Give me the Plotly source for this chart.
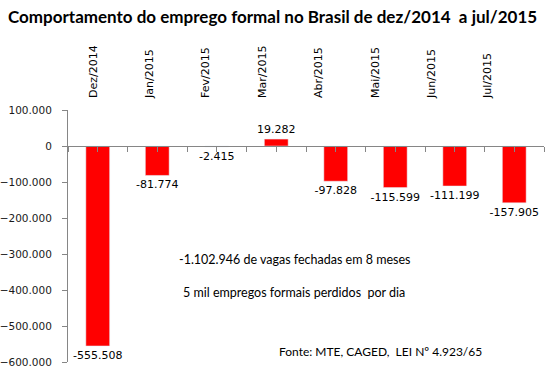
import plotly.graph_objects as go

categories = ["Dez/2014", "Jan/2015", "Fev/2015", "Mar/2015", "Abr/2015", "Mai/2015", "Jun/2015", "Jul/2015"]
values = [-555508, -81774, -2415, 19282, -97828, -115599, -111199, -157905]
y_tick_values = [100000, 0, -100000, -200000, -300000, -400000, -500000, -600000]
title_text = "Comportamento do emprego formal no Brasil de dez/2014  a jul/2015"
note_lines = ["-1.102.946 de vagas fechadas em 8 meses", "5 mil empregos formais perdidos  por dia"]
source_text = "Fonte: MTE, CAGED,  LEI Nº 4.923/65"

idx = list(range(len(categories)))
W, H = 551, 377
# plot area in page pixels: x 68..544, y 110.3..362.5
L, T = 68, 110.3
R = W - 544
B = H - 362.5
PW, PH = W - L - R, H - T - B
y_min, y_max = -600000, 100000
zero_frac = (0 - y_min) / (y_max - y_min)


def px_x(p):
    return (p - L) / PW


def px_y(p):
    return 1 - (p - T) / PH


fig = go.Figure()
fig.add_trace(go.Bar(
    x=idx, y=values, marker_color="#ff0000", width=0.4,
    text=[f"{v:,}".replace(",", ".") for v in values],
    textposition="outside", cliponaxis=False, constraintext="none",
    textfont=dict(family="DejaVu Sans", size=11, color="#000000"),
    hoverinfo="skip",
))
# invisible trace to carry the top category labels
fig.add_trace(go.Scatter(x=idx, y=values, xaxis="x2", mode="markers",
                         marker=dict(opacity=0), hoverinfo="skip", showlegend=False))

fig.update_layout(
    width=W, height=H,
    margin=dict(l=L, r=R, t=T, b=B, autoexpand=False),
    paper_bgcolor="white", plot_bgcolor="white",
    showlegend=False,
    separators=",.",
    xaxis=dict(
        range=[-0.5, len(categories) - 0.5],
        tickvals=[i / 2 - 0.5 for i in range(2 * len(categories) + 1)],
        showticklabels=False, ticks="outside", ticklen=5, tickcolor="#868686",
        showline=True, linecolor="#868686", linewidth=1,
        showgrid=False, zeroline=False, automargin=False,
        anchor="free", position=zero_frac, fixedrange=True,
    ),
    xaxis2=dict(
        overlaying="x", side="top", range=[-0.443, 7.997],
        tickvals=idx, ticktext=categories, tickangle=-90,
        ticks="", showline=False, showgrid=False, zeroline=False, automargin=False,
        tickfont=dict(family="DejaVu Sans", size=11, color="#000000"),
        ticklabelstandoff=11,
    ),
    yaxis=dict(
        range=[y_min, y_max], tickvals=y_tick_values, tickformat=",d",
        ticks="outside", ticklen=5, tickcolor="#868686",
        showline=True, linecolor="#868686", linewidth=1,
        showgrid=False, zeroline=False, automargin=False,
        tickfont=dict(family="DejaVu Sans", size=10.5, color="#1a1a1a"),
        ticklabelstandoff=8,
    ),
    bargap=0.6,
)

fig.add_annotation(text=f"<b>{title_text}</b>", xref="paper", yref="paper",
                   x=px_x(272), y=px_y(17),
                   xanchor="center", yanchor="middle", showarrow=False,
                   font=dict(family="Lato", size=17, color="#000000"))
note_y = [260, 293]
for txt, py in zip(note_lines, note_y):
    fig.add_annotation(text=txt, xref="paper", yref="paper",
                       x=px_x(294), y=px_y(py),
                       xanchor="center", yanchor="middle", showarrow=False,
                       font=dict(family="Lato", size=12.5, color="#000000"))
fig.add_annotation(text=source_text, xref="paper", yref="paper",
                   x=px_x(380), y=px_y(352),
                   xanchor="center", yanchor="middle", showarrow=False,
                   font=dict(family="Lato", size=12, color="#000000"))

fig.write_html("out.html", config={"displayModeBar": False},
               post_script="document.body.style.margin='0';document.body.style.overflow='hidden';")
